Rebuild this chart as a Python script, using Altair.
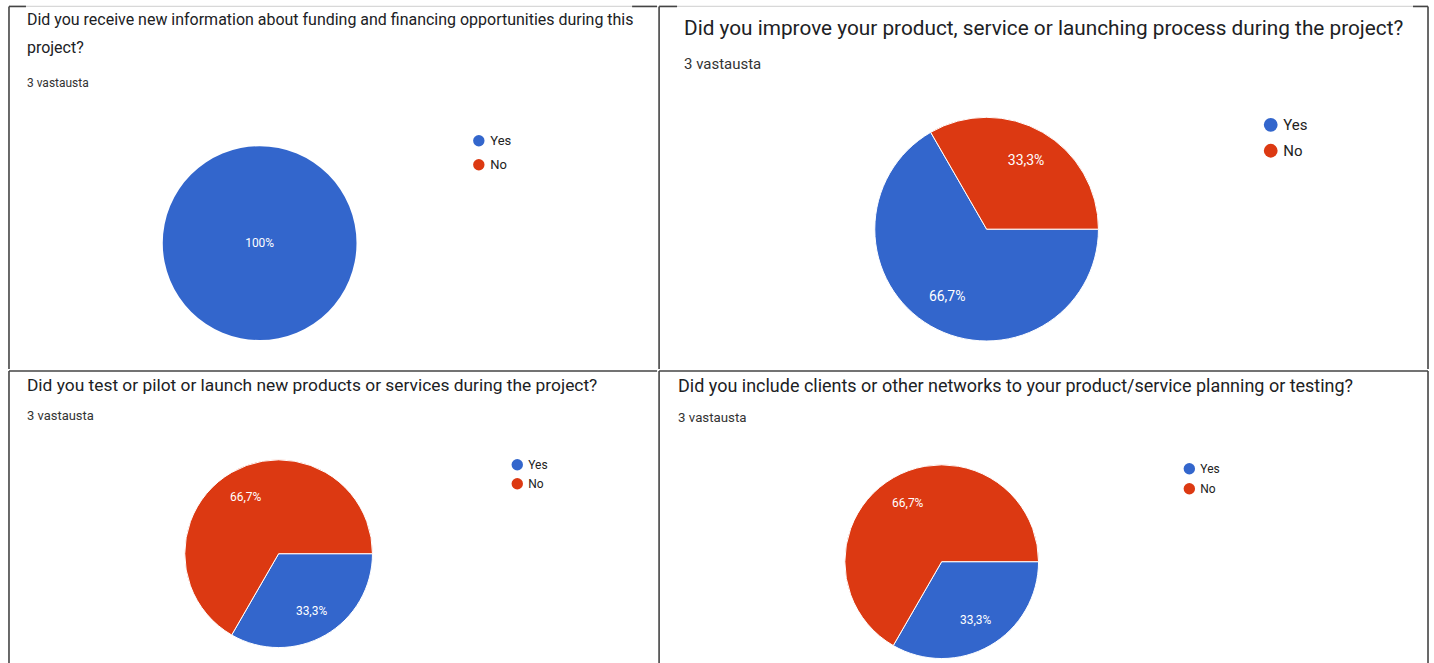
import math
import altair as alt
import pandas as pd

# ---------------- data ----------------
answers = ["Yes", "No"]
colors = ["#3366CC", "#DC3912"]

titles = [
    ["Did you receive new information about funding and financing opportunities during this", "project?"],
    ["Did you improve your product, service or launching process during the project?"],
    ["Did you test or pilot or launch new products or services during the project?"],
    ["Did you include clients or other networks to your product/service planning or testing?"],
]
subtitle = "3 vastausta"

yes_counts = [3, 2, 1, 1]
no_counts = [0, 1, 2, 2]
yes_labels = ["100%", "66,7%", "33,3%", "33,3%"]
no_labels = ["", "33,3%", "66,7%", "66,7%"]

FONT = "Roboto"
TXT = "#202124"
LINE = "#444444"
START = math.pi / 2


def pie_df(i):
    return pd.DataFrame({
        "answer": answers,
        "count": [yes_counts[i], no_counts[i]],
        "label": [yes_labels[i], no_labels[i]],
        "order": [0, 1],
    })


def one(text=""):
    return pd.DataFrame({"t": [text]})


def vrule(x, y0, y1, color=LINE, sw=1.6):
    return alt.Chart(one()).mark_rule(color=color, strokeWidth=sw).encode(
        x=alt.value(x), y=alt.value(y0), y2=alt.value(y1))


def hrule(y, x0, x1, color=LINE, sw=1.6):
    return alt.Chart(one()).mark_rule(color=color, strokeWidth=sw).encode(
        y=alt.value(y), x=alt.value(x0), x2=alt.value(x1))


def panel(i, w, h, title_size, title_x, title_y, line_h, sub_size, sub_y,
          cx, cy, R, label_r, label_size, lx, ly, sym, lab_size, row_pad,
          borders, slice_stroke=1):
    df = pie_df(i)
    theta = alt.Theta("count:Q", stack=True,
                      scale=alt.Scale(range=[START, START + 2 * math.pi]))
    color = alt.Color("answer:N",
                      scale=alt.Scale(domain=answers, range=colors),
                      legend=alt.Legend(orient="none", legendX=lx, legendY=ly,
                                        title=None, symbolType="circle",
                                        symbolSize=sym, symbolStrokeWidth=0,
                                        labelFont=FONT, labelFontSize=lab_size,
                                        labelColor="#222222", rowPadding=row_pad,
                                        labelOffset=5, padding=0))
    base = alt.Chart(df)
    arc = base.mark_arc(outerRadius=R, stroke="white",
                        strokeWidth=slice_stroke).encode(
        theta=theta, color=color, order=alt.Order("order:Q"),
        x=alt.value(cx), y=alt.value(cy))
    lab = base.mark_text(radius=label_r, color="white", font=FONT,
                         fontSize=label_size).encode(
        theta=theta, text="label:N", order=alt.Order("order:Q"),
        x=alt.value(cx), y=alt.value(cy))
    title_layers = []
    for k, line in enumerate(titles[i]):
        title_layers.append(
            alt.Chart(one(line)).mark_text(align="left", baseline="middle",
                                           font=FONT, fontSize=title_size,
                                           color=TXT).encode(
                text="t:N", x=alt.value(title_x), y=alt.value(title_y + k * line_h)))
    sub = alt.Chart(one(subtitle)).mark_text(align="left", baseline="middle",
                                             font=FONT, fontSize=sub_size,
                                             color="#333333").encode(
        text="t:N", x=alt.value(title_x), y=alt.value(sub_y))
    return alt.layer(*borders, arc, lab, *title_layers, sub).properties(
        width=w, height=h)


W1, W2, H1, H2 = 649, 770, 363, 294

p1 = panel(0, W1, H1, 16, 18, 14, 28, 12, 77,
           251, 237, 97, 0, 12, 464, 128, 130, 13, 10,
           [vrule(0, 0, H1), hrule(0, 0, W1, "#d8d8d8", 1.2),
            hrule(0, 0, 17), hrule(0, 624, W1)], slice_stroke=0)
p2 = panel(1, W2, H1, 20.8, 25, 23, 0, 15, 58,
           328, 223, 112, 79, 14, 605, 111, 190, 15, 10,
           [vrule(0, 0, H1), vrule(W2, 0, H1), hrule(0, 0, W2, "#d8d8d8", 1.2),
            hrule(0, 0, 18), hrule(0, 755, W2)])
p3 = panel(2, W1, H2, 17.4, 18, 15, 0, 13, 45,
           270, 183, 94, 66, 12, 503, 88, 130, 12, 7,
           [vrule(0, 0, H2), hrule(0, 0, W1)])
p4 = panel(3, W2, H2, 18, 19, 16, 0, 13.3, 47,
           283, 191, 97, 68, 12, 525, 92, 130, 12, 8,
           [vrule(0, 0, H2), vrule(W2, 0, H2), hrule(0, 0, W2)])

chart = alt.concat(p1, p2, p3, p4, columns=2, spacing=0).resolve_scale(
    color="independent", theta="independent").resolve_legend(
    color="independent").properties(
    padding={"left": 8, "top": 5, "right": 5, "bottom": 0},
    background="white").configure_view(stroke=None)

chart.save("out.html", embed_options={"renderer": "svg", "actions": False})
